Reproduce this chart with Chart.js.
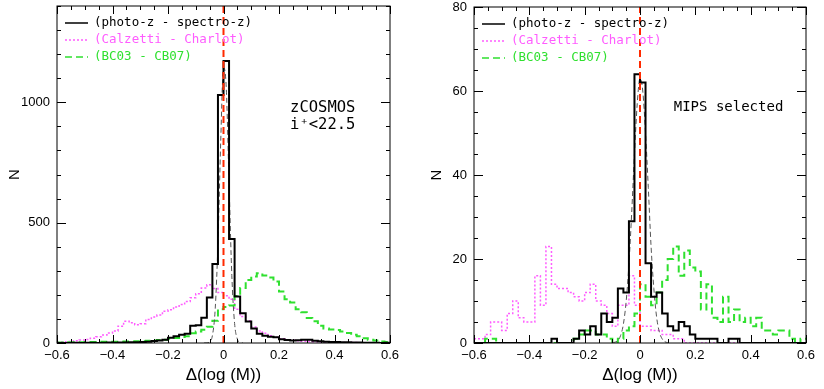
<!DOCTYPE html>
<html>
<head>
<meta charset="utf-8">
<script src="https://cdn.jsdelivr.net/npm/chart.js@4.4.1/dist/chart.umd.min.js"></script>
<style>
  html, body { margin: 0; padding: 0; background: #fff; }
  #wrap { position: relative; width: 824px; height: 389px; overflow: hidden; }
  canvas { position: absolute; top: 0; }
  #left { left: 0; }
  #right { left: 412px; }
</style>
</head>
<body>
<div id="wrap">
  <canvas id="left" width="412" height="389"></canvas>
  <canvas id="right" width="412" height="389"></canvas>
</div>
<script>
// histogram bins: 0.02 wide in Delta(log M), first bin starts at -0.6
const binStart = -0.6;
const binWidth = 0.02;

const xTicks = [-0.6, -0.4, -0.2, 0, 0.2, 0.4, 0.6];
const yTicksAll = [0, 500, 1000];
const yTicksMips = [0, 20, 40, 60, 80];

const seriesNames = ['(photo-z - spectro-z)', '(Calzetti - Charlot)', '(BC03 - CB07)'];

// zCOSMOS i+<22.5 sample
const photozAll = [0, 0, 0, 1, 0, 1, 1, 0, 1, 2, 1, 2, 2, 3, 3, 4, 5, 8, 10, 14,
  22, 28, 34, 38, 72, 74, 105, 189, 328, 1030, 1172, 432, 193, 124, 89, 60, 38, 30, 26, 24,
  16, 12, 10, 11, 14, 13, 9, 7, 5, 4, 4, 3, 3, 2, 2, 1, 1, 1, 0, 1];
const calzettiAll = [4, 5, 6, 9, 12, 15, 20, 26, 33, 42, 50, 70, 90, 84, 76, 80, 98, 108, 116, 132,
  138, 150, 160, 172, 188, 205, 228, 242, 226, 210, 196, 182, 140, 110, 92, 66, 50, 40, 30, 24,
  18, 14, 11, 9, 7, 6, 5, 4, 4, 3, 3, 2, 2, 2, 1, 1, 1, 1, 1, 0];
const bc03All = [2, 2, 3, 3, 3, 4, 4, 4, 5, 5, 5, 5, 6, 6, 7, 7, 9, 10, 12, 14,
  18, 21, 25, 28, 40, 48, 55, 68, 92, 140, 150, 156, 195, 228, 262, 276, 290, 280, 272, 256,
  214, 182, 168, 140, 128, 104, 90, 72, 60, 56, 54, 48, 42, 34, 28, 20, 14, 10, 6, 4];
const gaussAllX = [-0.07, -0.06, -0.05, -0.04, -0.03, -0.02, -0.01, 0, 0.01, 0.02, 0.03, 0.04, 0.05, 0.06, 0.07];
const gaussAllY = [0, 0.5, 5, 31, 139, 415, 838, 1144, 1059, 665, 281, 81, 16, 2, 0];

// MIPS selected sample
const photozMips = [0, 0, 0, 0, 0, 0, 0, 0, 0, 0, 0, 0, 0, 0, 1, 0, 0, 0, 1, 3,
  2, 4, 2, 7, 5, 6, 13, 12, 29, 64, 62, 19, 11, 12, 7, 4, 3, 5, 4, 2,
  1, 1, 1, 1, 0, 0, 1, 1, 0, 0, 0, 0, 0, 0, 0, 0, 0, 0, 0, 0];
const calzettiMips = [1, 1, 2, 5, 5, 3, 7, 10, 6, 5, 5, 16, 9, 23, 14, 13, 13, 12, 11, 10,
  12, 14, 10, 9, 7, 4, 9, 9, 16, 9, 4, 4, 3, 3, 2, 2, 1, 1, 0, 0,
  0, 0, 0, 0, 0, 0, 0, 0, 0, 0, 0, 0, 0, 0, 0, 0, 0, 0, 0, 0];
const bc03Mips = [0, 0, 1, 1, 0, 0, 0, 0, 0, 0, 0, 0, 0, 0, 0, 0, 0, 0, 1, 2,
  3, 3, 2, 2, 1, 0, 1, 3, 4, 7, 14, 11, 9, 12, 15, 20, 23, 16, 22, 18,
  17, 8, 14, 6, 5, 11, 5, 8, 5, 6, 4, 6, 3, 3, 2, 3, 3, 1, 0, 1];
const gaussMipsX = [-0.10, -0.09, -0.08, -0.07, -0.06, -0.05, -0.04, -0.03, -0.02, -0.01, 0,
  0.01, 0.02, 0.03, 0.04, 0.05, 0.06, 0.07, 0.08, 0.09, 0.10];
const gaussMipsY = [0.1, 0.2, 0.6, 1.8, 4.5, 9.9, 18.8, 31, 45, 57, 63, 60, 50, 37, 23, 13, 6.2, 2.6, 1, 0.3, 0.1];

const PINK = '#ff5cff';
const GREEN = '#2fe02f';
const RED = '#ff2a00';
const GRAY = '#555555';

Chart.defaults.font.family = 'Liberation Sans';
Chart.defaults.color = '#000';

function histPoints(counts) {
  const pts = [];
  counts.forEach((n, i) => {
    const x0 = binStart + i * binWidth;
    pts.push({x: x0, y: n}, {x: x0 + binWidth, y: n});
  });
  return pts;
}

// box round the plot with inward ticks, legend and the sample note
const framePlugin = {
  id: 'frame',
  afterDraw(chart, args, opts) {
    const {ctx, chartArea: a, scales: {x, y}} = chart;
    ctx.save();
    ctx.strokeStyle = '#000';
    ctx.lineWidth = 1;
    ctx.setLineDash([]);
    ctx.strokeRect(a.left, a.top, a.right - a.left, a.bottom - a.top);

    ctx.beginPath();
    const nx = Math.round((x.max - x.min) / opts.xMinor);
    for (let i = 0; i <= nx; i++) {
      const v = x.min + i * opts.xMinor;
      const px = Math.round(x.getPixelForValue(v)) + 0.5;
      const major = Math.abs(v / opts.xMajor - Math.round(v / opts.xMajor)) < 1e-6;
      const len = major ? 8 : 4;
      ctx.moveTo(px, a.bottom); ctx.lineTo(px, a.bottom - len);
      ctx.moveTo(px, a.top); ctx.lineTo(px, a.top + len);
    }
    const ny = Math.round((y.max - y.min) / opts.yMinor);
    for (let i = 0; i <= ny; i++) {
      const v = y.min + i * opts.yMinor;
      const py = Math.round(y.getPixelForValue(v)) + 0.5;
      const len = (v % opts.yMajor === 0) ? 9 : 4;
      ctx.moveTo(a.left, py); ctx.lineTo(a.left + len, py);
      ctx.moveTo(a.right, py); ctx.lineTo(a.right - len, py);
    }
    ctx.stroke();

    // legend, top left inside the box
    ctx.font = '12.5px "DejaVu Sans Mono"';
    ctx.textBaseline = 'middle';
    ctx.textAlign = 'left';
    chart.data.datasets.filter(d => d.label).forEach((d, i) => {
      const ly = a.top + 17 + i * 17;
      ctx.strokeStyle = d.borderColor;
      ctx.lineWidth = 1.5;
      ctx.setLineDash(d.borderDash || []);
      ctx.beginPath();
      ctx.moveTo(a.left + 8, ly);
      ctx.lineTo(a.left + 31, ly);
      ctx.stroke();
      ctx.fillStyle = d.borderColor;
      ctx.fillText(d.label, a.left + 37, ly);
    });

    ctx.fillStyle = '#000';
    opts.notes.forEach(n => {
      ctx.font = n.size + 'px "DejaVu Sans Mono"';
      ctx.fillText(n.text, x.getPixelForValue(n.x), y.getPixelForValue(n.y));
    });
    ctx.restore();
  }
};
Chart.register(framePlugin);

function makePanel(id, p) {
  const line = {pointRadius: 0, fill: false, tension: 0};
  return new Chart(document.getElementById(id), {
    type: 'line',
    data: {
      datasets: [
        {...line, label: seriesNames[0], data: histPoints(p.photoz), borderColor: '#000', borderWidth: 2, order: 1},
        {...line, label: seriesNames[1], data: histPoints(p.calzetti), borderColor: PINK, borderWidth: 1.5, borderDash: [2, 2], order: 4},
        {...line, label: seriesNames[2], data: histPoints(p.bc03), borderColor: GREEN, borderWidth: 2, borderDash: [7, 4], order: 3},
        {...line, data: p.gaussX.map((v, i) => ({x: v, y: p.gaussY[i]})), borderColor: GRAY, borderWidth: 1,
          borderDash: [5, 3], cubicInterpolationMode: 'monotone', order: 2},
        {...line, data: [{x: 0, y: 0}, {x: 0, y: p.yMax}], borderColor: RED, borderWidth: 2, borderDash: [7, 4], order: 0}
      ]
    },
    options: {
      responsive: false,
      animation: false,
      devicePixelRatio: 1,
      layout: {padding: {top: p.padTop, right: p.padRight, left: 0, bottom: 0}},
      plugins: {
        legend: {display: false},
        tooltip: {enabled: false},
        frame: {xMinor: 0.05, xMajor: 0.2, yMinor: p.yMinor, yMajor: p.yMajor, notes: p.notes}
      },
      scales: {
        x: {
          type: 'linear', min: -0.6, max: 0.6,
          grid: {display: false, drawTicks: false}, border: {display: false},
          afterBuildTicks: s => { s.ticks = xTicks.map(v => ({value: v})); },
          afterFit: s => { s.height = 46; s.paddingLeft = 0; s.paddingRight = 0; },
          ticks: {
            autoSkip: false, maxRotation: 0, minRotation: 0, padding: 5,
            font: {size: 13},
            callback: v => v === 0 ? '0' : (v < 0 ? '\u2212' : '') + Math.abs(v).toFixed(1)
          },
          title: {display: true, text: '\u0394(log (M))', font: {size: 17}, padding: {top: 0, bottom: 3}}
        },
        y: {
          type: 'linear', min: 0, max: p.yMax,
          grid: {display: false, drawTicks: false}, border: {display: false},
          afterBuildTicks: s => { s.ticks = p.yTicks.map(v => ({value: v})); },
          afterFit: s => { s.width = p.yAxisW; s.paddingTop = 0; s.paddingBottom = 0; },
          ticks: {autoSkip: false, padding: 7, font: {size: 13}, callback: v => String(v)},
          title: {display: true, text: 'N', font: {size: 15}, padding: {top: p.nPad, bottom: p.nPad}}
        }
      }
    }
  });
}

makePanel('left', {
  photoz: photozAll, calzetti: calzettiAll, bc03: bc03All,
  gaussX: gaussAllX, gaussY: gaussAllY,
  yMax: 1400, yTicks: yTicksAll, yMinor: 100, yMajor: 500,
  yAxisW: 57, padTop: 6, padRight: 22, nPad: 6,
  notes: [{text: 'zCOSMOS', x: 0.24, y: 975, size: 15.5}, {text: 'i\u207A<22.5', x: 0.24, y: 905, size: 15.5}]
});

makePanel('right', {
  photoz: photozMips, calzetti: calzettiMips, bc03: bc03Mips,
  gaussX: gaussMipsX, gaussY: gaussMipsY,
  yMax: 80, yTicks: yTicksMips, yMinor: 5, yMajor: 20,
  yAxisW: 62, padTop: 7, padRight: 18, nPad: 16,
  notes: [{text: 'MIPS selected', x: 0.122, y: 56, size: 14}]
});
</script>
</body>
</html>
